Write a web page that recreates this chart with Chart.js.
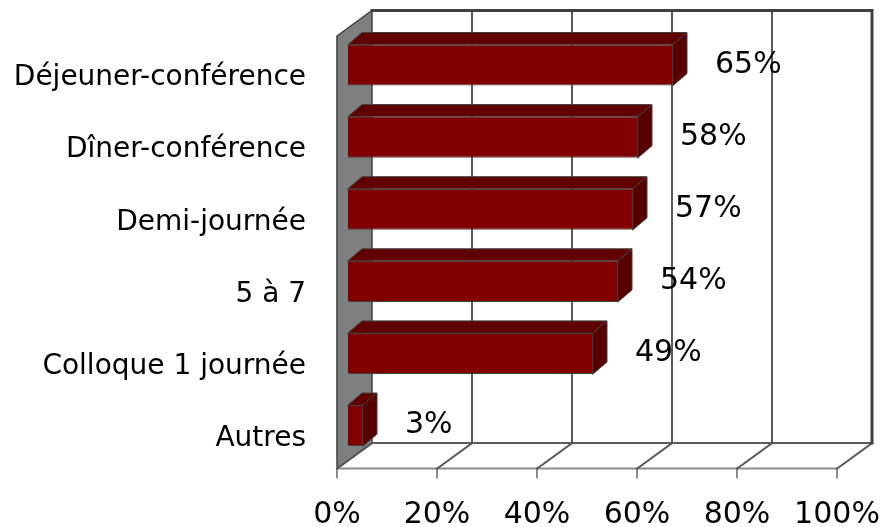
<!DOCTYPE html>
<html lang="fr">
<head>
<meta charset="utf-8">
<script src="https://cdn.jsdelivr.net/npm/chart.js@4.4.1/dist/chart.umd.min.js"></script>
<style>
  html, body { margin: 0; padding: 0; background: #fff; }
</style>
</head>
<body>
<canvas id="formats" width="883" height="527"></canvas>
<script>
// Formats d'activités (% des répondants)
const categories = ['Déjeuner-conférence', 'Dîner-conférence', 'Demi-journée', '5 à 7', 'Colloque 1 journée', 'Autres'];
const percents = [65, 58, 57, 54, 49, 3];
const xTicks = [0, 20, 40, 60, 80, 100];

// décalages de la fausse perspective 3D (par rapport au plan des barres)
const FRONT = { dx: -11, dy: 7 };
const BACK = { dx: 24, dy: -18.5 };
const DEPTH = { dx: 14, dy: -12 };

const labelFont = { family: "'DejaVu Sans', sans-serif", size: 28 };
const numFont = { family: "'DejaVu Sans', sans-serif", size: 30 };

// -------------------------------
// MURS, SOL ET QUADRILLAGE
// -------------------------------
const walls3d = {
    id: 'walls3d',
    beforeDatasetsDraw(chart) {
        const { ctx, chartArea: a, scales: { x } } = chart;
        const x0 = x.getPixelForValue(0);
        const x100 = x.getPixelForValue(100);
        const topB = a.top + BACK.dy, botB = a.bottom + BACK.dy;
        const topF = a.top + FRONT.dy, botF = a.bottom + FRONT.dy;

        ctx.save();
        ctx.lineCap = 'square';

        // mur de gauche
        ctx.beginPath();
        ctx.moveTo(x0 + FRONT.dx, topF);
        ctx.lineTo(x0 + BACK.dx, topB);
        ctx.lineTo(x0 + BACK.dx, botB);
        ctx.lineTo(x0 + FRONT.dx, botF);
        ctx.closePath();
        ctx.fillStyle = '#7f7f7f';
        ctx.fill();
        ctx.strokeStyle = '#404040';
        ctx.lineWidth = 1.5;
        ctx.stroke();

        // sol : ligne avant + graduations
        ctx.strokeStyle = '#8c8c8c';
        ctx.lineWidth = 2;
        ctx.beginPath();
        ctx.moveTo(x0 + FRONT.dx, botF);
        ctx.lineTo(x100 + FRONT.dx, botF);
        ctx.stroke();
        xTicks.forEach(v => {
            const px = x.getPixelForValue(v) + FRONT.dx;
            ctx.beginPath();
            ctx.moveTo(px, botF);
            ctx.lineTo(px, botF + 9);
            ctx.stroke();
        });

        // sol : diagonales
        ctx.strokeStyle = '#595959';
        xTicks.forEach(v => {
            const px = x.getPixelForValue(v);
            ctx.beginPath();
            ctx.moveTo(px + BACK.dx, botB);
            ctx.lineTo(px + FRONT.dx, botF);
            ctx.stroke();
        });

        // quadrillage du mur du fond
        xTicks.slice(1).forEach(v => {
            const px = x.getPixelForValue(v) + BACK.dx;
            ctx.beginPath();
            ctx.moveTo(px, topB);
            ctx.lineTo(px, botB);
            ctx.stroke();
        });
        ctx.beginPath();
        ctx.moveTo(x0 + BACK.dx, botB);
        ctx.lineTo(x100 + BACK.dx, botB);
        ctx.stroke();

        // bord haut et droit plus épais
        ctx.strokeStyle = '#404040';
        ctx.lineWidth = 3;
        ctx.beginPath();
        ctx.moveTo(x0 + BACK.dx, topB);
        ctx.lineTo(x100 + BACK.dx, topB);
        ctx.lineTo(x100 + BACK.dx, botB);
        ctx.stroke();

        // dessus et bout des barres
        const meta = chart.getDatasetMeta(0);
        ctx.lineWidth = 1;
        ctx.strokeStyle = '#404040';
        meta.data.forEach(bar => {
            const { x: xe, y, base, height } = bar.getProps(['x', 'y', 'base', 'height'], true);
            const top = y - height / 2, bottom = y + height / 2;

            ctx.beginPath();
            ctx.moveTo(base, top);
            ctx.lineTo(base + DEPTH.dx, top + DEPTH.dy);
            ctx.lineTo(xe + DEPTH.dx, top + DEPTH.dy);
            ctx.lineTo(xe, top);
            ctx.closePath();
            ctx.fillStyle = '#600000';
            ctx.fill();
            ctx.stroke();

            ctx.beginPath();
            ctx.moveTo(xe, top);
            ctx.lineTo(xe + DEPTH.dx, top + DEPTH.dy);
            ctx.lineTo(xe + DEPTH.dx, bottom + DEPTH.dy);
            ctx.lineTo(xe, bottom);
            ctx.closePath();
            ctx.fillStyle = '#560000';
            ctx.fill();
            ctx.stroke();
        });
        ctx.restore();
    },
    afterDatasetsDraw(chart) {
        const { ctx } = chart;
        const meta = chart.getDatasetMeta(0);
        ctx.save();
        ctx.font = `${numFont.size}px ${numFont.family}`;
        ctx.fillStyle = '#000';
        ctx.textAlign = 'left';
        ctx.textBaseline = 'middle';
        meta.data.forEach((bar, i) => {
            ctx.fillText(percents[i] + '%', bar.x + 42, bar.y);
        });
        ctx.restore();
    }
};

const ctx = document.getElementById('formats').getContext('2d');
new Chart(ctx, {
    type: 'bar',
    data: {
        labels: categories,
        datasets: [{
            data: percents,
            backgroundColor: '#800000',
            borderColor: '#404040',
            borderWidth: 1,
            categoryPercentage: 1,
            barPercentage: 0.57
        }]
    },
    options: {
        indexAxis: 'y',
        responsive: false,
        animation: false,
        layout: { padding: { top: 29, right: 35, bottom: 0, left: 0 } },
        plugins: { legend: { display: false }, tooltip: { enabled: false } },
        scales: {
            x: {
                min: 0,
                max: 100,
                afterBuildTicks: s => { s.ticks = xTicks.map(v => ({ value: v })); },
                ticks: {
                    callback: v => v + '%',
                    labelOffset: FRONT.dx,
                    padding: 36,
                    maxRotation: 0,
                    color: '#000',
                    font: numFont
                },
                grid: { display: false, drawTicks: false },
                border: { display: false },
                afterFit: s => { s.height = 65.4; s.paddingLeft = 0; s.paddingRight = 0; }
            },
            y: {
                ticks: {
                    labelOffset: 13,
                    padding: 42,
                    color: '#000',
                    font: labelFont
                },
                grid: { display: false, drawTicks: false },
                border: { display: false },
                afterFit: s => { s.width = 348; s.paddingTop = 0; s.paddingBottom = 0; }
            }
        }
    },
    plugins: [walls3d]
});
</script>
</body>
</html>
